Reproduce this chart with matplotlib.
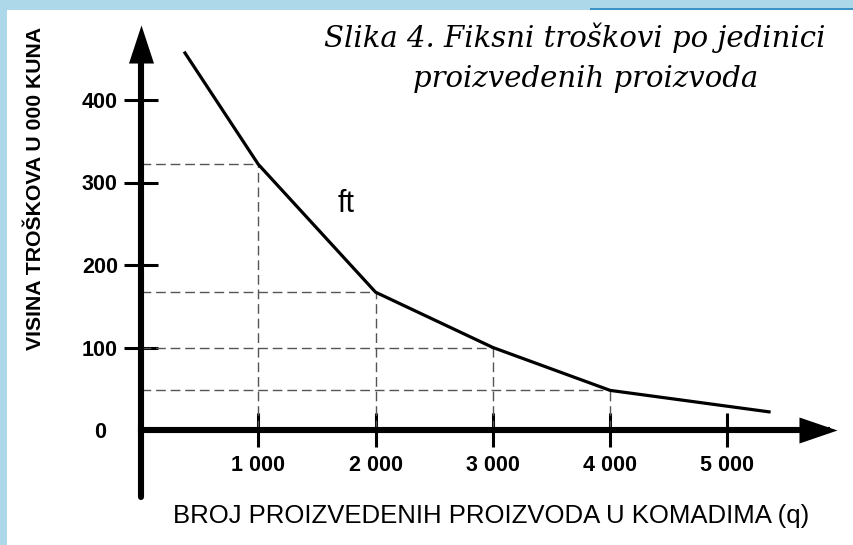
import matplotlib
matplotlib.use("Agg")
import matplotlib.pyplot as plt
from matplotlib.patches import Rectangle
from matplotlib.path import Path

# podaci ocitani sa slike
q = [375, 1000, 2000, 3000, 4000, 5354]
ft = [457, 322, 167, 100, 48, 22]
guide_q = [1000, 2000, 3000, 4000]
guide_ft = [322, 167, 100, 48]
x_ticks = [1000, 2000, 3000, 4000, 5000]
x_labels = ["1 000", "2 000", "3 000", "4 000", "5 000"]
y_ticks = [0, 100, 200, 300, 400]
y_labels = ["0", "100", "200", "300", "400"]

W, H = 854, 545
fig = plt.figure(figsize=(W / 100, H / 100), dpi=100, facecolor="#acd8ea")

# bijela podloga i plava crta gore desno
fig.patches.append(Rectangle((7 / W, 0), 1, (H - 10) / H, transform=fig.transFigure,
                             facecolor="white", edgecolor="none", zorder=-10))
fig.patches.append(Rectangle((590 / W, (H - 10) / H), 1, 2.5 / H, transform=fig.transFigure,
                             facecolor="#3d93c4", edgecolor="none", zorder=-10))

ax = fig.add_axes([0, 0, 1, 1])
ax.patch.set_alpha(0)
# mjerilo: 0 na x=141 px, 117.3 px po 1000 kom; 0 na y=430 px, 82.5 px po 100
ax.set_xlim(-141 / 0.1173, (W - 141) / 0.1173)
ax.set_ylim((430 - H) / 0.825, 430 / 0.825)

for s in ["top", "right"]:
    ax.spines[s].set_visible(False)
ax.spines["left"].set_position(("data", 0))
ax.spines["bottom"].set_position(("data", 0))
ax.spines["left"].set_bounds(-81, 470)
ax.spines["bottom"].set_bounds(0, 5850)
ax.spines["left"].set_linewidth(4.4)
ax.spines["bottom"].set_linewidth(4.4)
ax.spines["left"].set_capstyle("round")

# strelice na krajevima osi
head_up = Path([(-12.5, -19), (12.5, -19), (0, 19), (-12.5, -19)])
head_right = Path([(-19, -13), (-19, 13), (19, 0), (-19, -13)])
ax.plot([0], [468], marker=head_up, markersize=27.4, color="black", mew=0, clip_on=False)
ax.plot([5775], [0], marker=head_right, markersize=27.4, color="black", mew=0, clip_on=False)

ax.set_xticks(x_ticks)
ax.set_xticklabels(x_labels)
ax.set_yticks(y_ticks)
ax.set_yticklabels(y_labels)
ax.tick_params(direction="inout", length=24.5, width=2.2, color="black")
ax.tick_params(axis="x", pad=6)
ax.tick_params(axis="y", pad=17.3)
ax.yaxis.get_major_ticks()[0].tick1line.set_visible(False)
for lab in ax.get_xticklabels() + ax.get_yticklabels():
    lab.set_fontfamily("Liberation Sans")
    lab.set_fontweight("bold")
    lab.set_fontsize(15.5)
for lab in ax.get_yticklabels():
    lab.set_ha("center")

# pomocne isprekidane linije
ax.hlines(guide_ft, 0, guide_q, colors="#555555", linewidth=1.0, linestyles=(0, (7, 3.5)))
ax.vlines(guide_q, 0, guide_ft, colors="#555555", linewidth=1.0, linestyles=(0, (7, 3.5)))

ax.plot(q, ft, color="black", linewidth=2.3, solid_joinstyle="round")
ax.text(1748, 274, "ft", fontsize=22, family="Liberation Sans", ha="center", va="center")

fig.text(36 / W, 1 - 188 / H, "VISINA TROŠKOVA U 000 KUNA", rotation=90, ha="center",
         va="center", fontsize=15.3, fontweight="bold", family="Liberation Sans")
fig.text(491 / W, 1 - 523 / H, "BROJ PROIZVEDENIH PROIZVODA U KOMADIMA (q)", ha="center",
         va="baseline", fontsize=18.5, family="Liberation Sans")

fig.text(575 / W, 1 - 47 / H, "Slika 4. Fiksni troškovi po jedinici", ha="center",
         va="baseline", fontsize=21, style="italic", family="DejaVu Serif")
fig.text(586 / W, 1 - 87 / H, "proizvedenih proizvoda", ha="center",
         va="baseline", fontsize=21, style="italic", family="DejaVu Serif")

fig.savefig("out.png", dpi=100, facecolor=fig.get_facecolor())
